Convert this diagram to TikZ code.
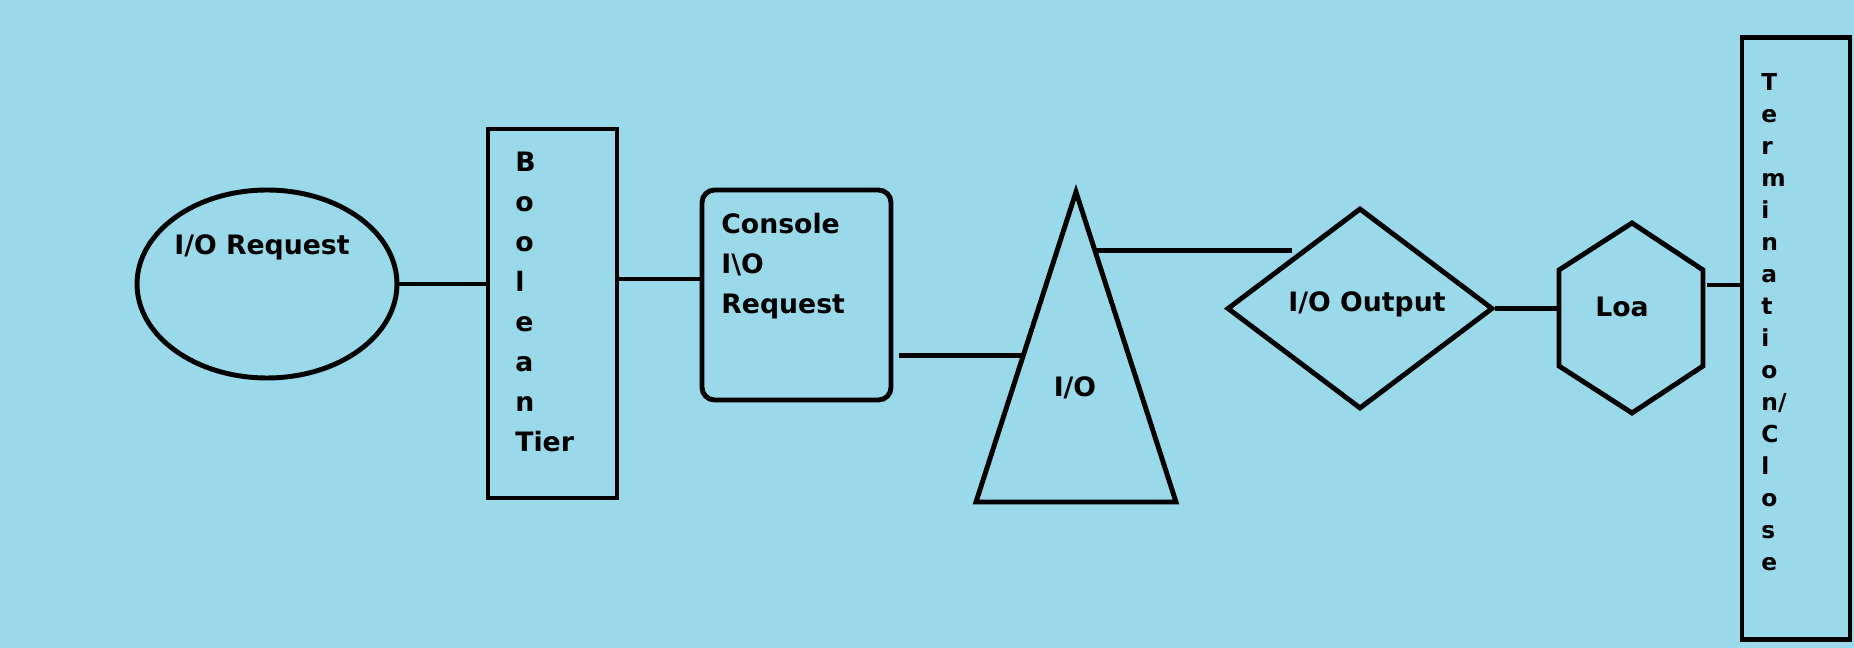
\documentclass[tikz,border=0pt]{standalone}
\usepackage{fontspec}
\setmainfont{DejaVu Sans}
\usetikzlibrary{shapes.geometric,calc}
\definecolor{paintblue}{RGB}{153,217,234}

\begin{document}
\begin{tikzpicture}[x=0.02cm,y=-0.02cm,
	edge/.style={draw=black,line width=2.8pt},
	lbl/.style={font=\bfseries\fontsize{15.2}{22.8}\selectfont,inner sep=0pt},
	tall/.style={font=\bfseries\fontsize{13.3}{18.2}\selectfont,inner sep=0pt,align=left,anchor=north west}]
	\fill[paintblue] (0,0) rectangle (1854,648);
	\useasboundingbox (0,0) rectangle (1854,648);

	\node[edge,ellipse,minimum width=5.2cm,minimum height=3.76cm,inner sep=0pt] (req) at (267,284) {};
	\node[lbl,anchor=base] (reqtext) at (262,255) {I/O Request};

	\node[edge,rectangle,minimum width=2.58cm,minimum height=7.38cm] (bool) at (552.5,313.5) {};
	\node[lbl,align=left,anchor=north west] (booltext) at (515,151.5) {B\\o\\o\\l\\e\\a\\n\\Tier};

	\node[edge,rectangle,rounded corners=0.25cm,minimum width=3.78cm,minimum height=4.2cm] (con) at (796.5,295) {};
	\node[lbl,align=left,anchor=north west] (context) at (721,212.5) {Console\\I\textbackslash O\\Request};

	\coordinate (apex) at (1076,192);
	\coordinate (bl) at (976,502);
	\coordinate (br) at (1176,502);
	\draw[edge] (apex) -- (bl) -- (br) -- cycle;
	\node[lbl,anchor=base] (tri) at (1075,397) {I/O};
	\coordinate (trileft) at ($(apex)!0.526!(bl)$);
	\coordinate (triright) at ($(apex)!0.19!(br)$);

	\node[edge,diamond,minimum width=5.32cm,minimum height=4.02cm,inner sep=0pt] (dia) at (1360,308.5) {};
	\node[lbl,anchor=base] (diatext) at (1367,312) {I/O Output};

	\coordinate (h1) at (1632,223);
	\coordinate (h2) at (1703,270);
	\coordinate (h3) at (1703,366);
	\coordinate (h4) at (1632,413);
	\coordinate (h5) at (1559,366);
	\coordinate (h6) at (1559,270);
	\draw[edge] (h1) -- (h2) -- (h3) -- (h4) -- (h5) -- (h6) -- cycle;
	\node[lbl,anchor=base] (hex) at (1622,317) {Loa};

	\node[edge,rectangle,minimum width=2.16cm,minimum height=12.06cm] (term) at (1796,338.5) {};
	\node[tall] (termtext) at (1761,73) {T\\e\\r\\m\\i\\n\\a\\t\\i\\o\\n/\\C\\l\\o\\s\\e};

	\draw[edge] (req.east) -- (req.east -| bool.west);
	\draw[edge] (bool.east |- 0,279) -- (con.west |- 0,279);
	\draw[edge] ([xshift=0.12cm]con.east |- trileft) -- (trileft);
	\draw[edge] (triright) -- (triright -| dia.north west);
	\draw[edge] (dia.east) -- (dia.east -| h6);
	\draw[edge] ([xshift=0.08cm]h2 |- 0,285) -- (term.west |- 0,285);
\end{tikzpicture}
\end{document}
